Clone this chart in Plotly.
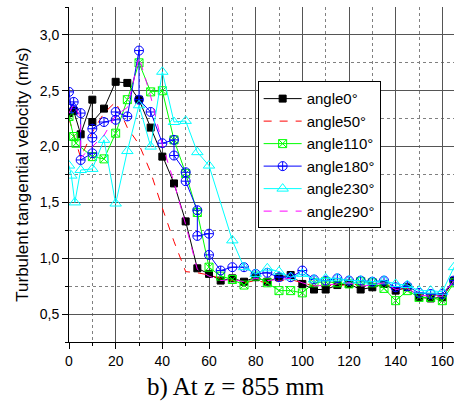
import plotly.graph_objects as go

# ---- data ----
x0 = [0, 2, 5, 10, 10, 15, 20, 25, 30, 35, 40, 45, 50, 55, 60, 65, 70, 75, 80, 85, 90, 95, 100,
      105, 110, 115, 120, 125, 130, 135, 140, 145, 150, 155, 160, 165]
y0 = [2.30, 2.32, 2.11, 2.42, 2.22, 2.34, 2.58, 2.57, 2.42, 2.17, 1.91, 1.67, 1.33, 0.91, 0.86, 0.80,
      0.82, 0.79, 0.83, 0.79, 0.83, 0.85, 0.77, 0.72, 0.72, 0.76, 0.77, 0.72, 0.74, 0.77, 0.71, 0.74,
      0.65, 0.64, 0.65, 0.80]

x50 = [0, 5, 10, 15, 20, 25, 30, 35, 40, 45, 50, 55, 60, 65, 70, 75, 80, 85, 90, 95, 100, 105, 110,
       115, 120, 125, 130, 135, 140, 145, 150, 155, 160, 165]
y50 = [2.25, 1.90, 2.13, 2.30, 2.40, 2.17, 2.02, 1.77, 1.45, 1.15, 0.88, 0.87, 0.85, 0.82, 0.80, 0.78,
       0.80, 0.78, 0.80, 0.81, 0.78, 0.75, 0.76, 0.75, 0.77, 0.76, 0.77, 0.78, 0.72, 0.73, 0.68, 0.67,
       0.67, 0.80]

x110 = [0, 2, 3, 10, 15, 20, 25, 30, 35, 40, 45, 50, 55, 60, 65, 70, 75, 80, 85, 90, 95, 100, 105,
        110, 115, 120, 125, 130, 135, 140, 145, 150, 155, 160, 165]
y110 = [2.27, 2.09, 2.03, 1.91, 1.89, 2.12, 2.42, 2.75, 2.49, 2.50, 2.06, 1.76, 1.41, 0.92, 0.84, 0.81,
        0.76, 0.84, 0.78, 0.71, 0.71, 0.69, 0.78, 0.79, 0.78, 0.77, 0.79, 0.78, 0.73, 0.62, 0.71, 0.65,
        0.65, 0.62, 0.78]

x180 = [0, 1, 2, 5, 5, 10, 10, 10, 15, 20, 20, 25, 30, 30, 35, 40, 45, 45, 50, 50, 55, 55, 60, 60,
        65, 70, 75, 80, 85, 90, 95, 100, 105, 110, 115, 120, 125, 130, 135, 140, 145, 150, 155, 160, 165]
y180 = [2.49, 2.34, 2.40, 2.30, 1.88, 1.94, 2.08, 2.16, 2.22, 2.24, 2.31, 2.27, 2.86, 2.42, 2.31, 2.03,
        2.06, 1.92, 1.77, 1.69, 1.43, 1.20, 1.22, 1.03, 0.89, 0.92, 0.92, 0.86, 0.87, 0.83, 0.83, 0.89,
        0.81, 0.80, 0.82, 0.80, 0.80, 0.79, 0.80, 0.74, 0.75, 0.69, 0.68, 0.68, 0.80]

x230 = [0, 1, 2.5, 5, 10, 15, 20, 25, 30, 35, 40, 45, 50, 55, 60, 70, 75, 80, 85, 90, 95, 100, 105,
        110, 115, 120, 125, 130, 135, 140, 145, 150, 155, 160, 165]
y230 = [1.83, 1.74, 1.50, 1.79, 1.80, 2.06, 1.49, 1.96, 2.37, 2.00, 2.67, 2.22, 2.23, 1.95, 1.83, 1.16,
        0.92, 0.86, 0.91, 0.88, 0.83, 0.86, 0.81, 0.82, 0.82, 0.80, 0.80, 0.79, 0.80, 0.77, 0.76, 0.71,
        0.71, 0.70, 0.92]

x290 = [0, 2, 5, 5, 10, 15, 20, 25, 30, 35, 40, 45, 50, 55, 60, 65, 70, 75, 80, 85, 90, 95, 100, 105,
        110, 115, 120, 125, 130, 135, 140, 145, 150, 155, 160, 165]
y290 = [2.30, 2.38, 2.26, 1.90, 2.00, 2.10, 2.28, 2.35, 2.80, 2.45, 2.02, 1.68, 1.30, 0.90, 0.84, 0.80,
        0.81, 0.79, 0.82, 0.80, 0.81, 0.82, 0.78, 0.75, 0.76, 0.77, 0.78, 0.75, 0.76, 0.78, 0.72, 0.73,
        0.67, 0.66, 0.66, 0.80]

series = [
    ("angle0°", x0, y0, "#000000", "square", 7, "solid", "lines+markers"),
    ("angle50°", x50, y50, "#ff0000", None, 0, "8px,8px", "lines"),
    ("angle110°", x110, y110, "#00ff00", "square-x-open", 8, "solid", "lines+markers"),
    ("angle180°", x180, y180, "#0000ff", "circle-cross-open", 9, "solid", "lines+markers"),
    ("angle230°", x230, y230, "#00ffff", "triangle-up-open", 10, "solid", "lines+markers"),
    ("angle290°", x290, y290, "#ff00ff", None, 0, "8px,8px", "lines"),
]

fig = go.Figure()
for name, xs, ys, col, sym, sz, dash, mode in series:
    kw = dict(x=xs, y=ys, name=name, mode=mode,
              line=dict(color=col, width=1, dash=dash))
    if sym:
        kw["marker"] = dict(symbol=sym, size=sz, color=col, line=dict(color=col, width=1))
    fig.add_trace(go.Scatter(**kw))

fig.update_layout(
    width=460, height=412,
    margin=dict(l=69, r=6, t=7, b=70),
    paper_bgcolor="white", plot_bgcolor="white",
    separators=", ",
    font=dict(family="Liberation Sans, Arial, sans-serif", color="black", size=14),
    showlegend=True,
    legend=dict(x=0.49, y=0.778, xanchor="left", yanchor="top",
                bgcolor="white", bordercolor="black", borderwidth=1,
                font=dict(size=15), tracegroupgap=0, itemwidth=38),
    annotations=[dict(text="b) At z = 855 mm", xref="paper", yref="paper",
                      x=(236 - 69) / 385, y=-0.135, xanchor="center", yanchor="middle",
                      showarrow=False,
                      font=dict(family="Liberation Serif, Times New Roman, serif", size=25))],
)

fig.update_xaxes(range=[0, 165], dtick=20, tick0=0, showline=True, linecolor="black", linewidth=1,
                 ticks="outside", ticklen=6, tickcolor="black",
                 showgrid=True, gridcolor="#555555", gridwidth=1.4, zeroline=False,
                 minor=dict(dtick=10, ticks="outside", ticklen=3, tickcolor="black",
                            showgrid=True, gridcolor="#808080", griddash="dot", gridwidth=1),
                 tickfont=dict(size=14))
fig.update_yaxes(range=[0.25, 3.25], dtick=0.5, tick0=0.5, tickformat=".1f",
                 showline=True, linecolor="black", linewidth=1,
                 ticks="outside", ticklen=6, tickcolor="black",
                 showgrid=True, gridcolor="#555555", gridwidth=1.4, zeroline=False,
                 minor=dict(dtick=0.25, ticks="outside", ticklen=3, tickcolor="black",
                            showgrid=True, gridcolor="#808080", griddash="dot", gridwidth=1),
                 title=dict(text="Turbulent tangential velocity (m/s)", font=dict(size=17), standoff=6),
                 tickfont=dict(size=14))

fig.write_html("out.html", config={"displayModeBar": False},
               post_script="document.body.style.margin='0px';")
